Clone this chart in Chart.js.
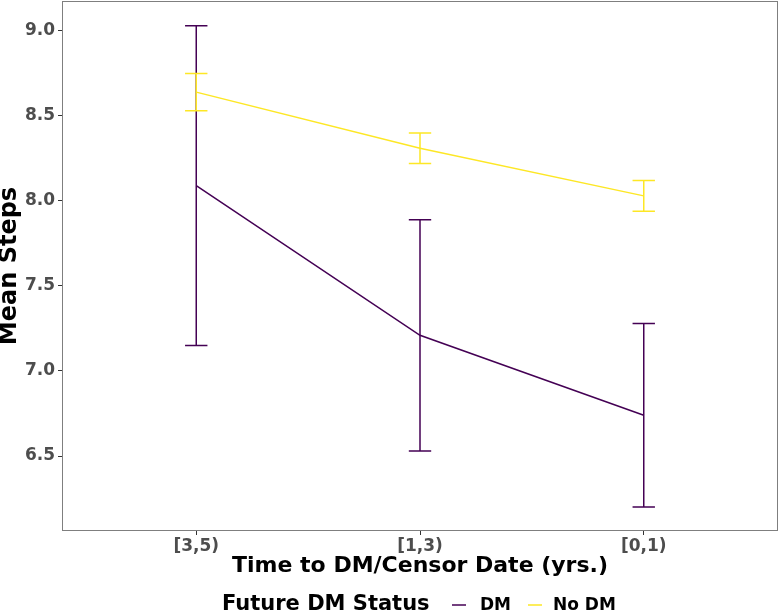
<!DOCTYPE html>
<html>
<head>
<meta charset="utf-8">
<script src="https://cdn.jsdelivr.net/npm/chart.js@4"></script>
<style>
  body { margin: 0; background: #fff; }
  #wrap { width: 780px; height: 614px; }
</style>
</head>
<body>
<div id="wrap"><canvas id="steps-chart"></canvas></div>
<script>
// categories on the x axis
var categories = ['[3,5)', '[1,3)', '[0,1)'];
var yTicks = [6.5, 7.0, 7.5, 8.0, 8.5, 9.0];

// Future DM status groups
var groups = ['DM', 'No DM'];
var groupColors = ['#440154', '#FDE725'];

var dmMean = [8.09, 7.21, 6.74];
var dmLower = [7.15, 6.53, 6.20];
var dmUpper = [9.03, 7.89, 7.28];

var noDmMean = [8.64, 8.31, 8.03];
var noDmLower = [8.53, 8.22, 7.94];
var noDmUpper = [8.75, 8.40, 8.12];

const FONT = "'DejaVu Sans', sans-serif";

function toPoints(vals) {
    return vals.map(function (v, i) { return {x: i + 1, y: v}; });
}

const errorBars = {
    id: 'errorBars',
    afterDatasetsDraw(chart) {
        const ctx = chart.ctx;
        const xs = chart.scales.x, ys = chart.scales.y;
        const half = xs.getPixelForValue(1.05) - xs.getPixelForValue(1);
        const sets = [[dmLower, dmUpper], [noDmLower, noDmUpper]];
        ctx.save();
        ctx.lineWidth = 1.5;
        sets.forEach(function (s, g) {
            ctx.strokeStyle = groupColors[g];
            for (let i = 0; i < categories.length; i++) {
                const px = xs.getPixelForValue(i + 1);
                const lo = ys.getPixelForValue(s[0][i]);
                const hi = ys.getPixelForValue(s[1][i]);
                ctx.beginPath();
                ctx.moveTo(px, lo); ctx.lineTo(px, hi);
                ctx.moveTo(px - half, lo); ctx.lineTo(px + half, lo);
                ctx.moveTo(px - half, hi); ctx.lineTo(px + half, hi);
                ctx.stroke();
            }
        });
        ctx.restore();
    },
    afterDraw(chart) {
        const ctx = chart.ctx;
        const a = chart.chartArea;
        ctx.save();
        // panel border
        ctx.strokeStyle = '#7f7f7f';
        ctx.lineWidth = 1;
        ctx.strokeRect(a.left + 0.5, a.top + 0.5, a.right - a.left - 1, a.bottom - a.top - 1);

        // legend
        const y = 605;
        ctx.textBaseline = 'middle';
        ctx.fillStyle = '#000';
        ctx.font = 'bold 21px ' + FONT;
        ctx.fillText('Future DM Status', 222, y);
        ctx.font = 'bold 17px ' + FONT;
        const keys = [[452, 480], [528, 553]];
        groups.forEach(function (name, g) {
            ctx.strokeStyle = groupColors[g];
            ctx.lineWidth = 1.5;
            ctx.beginPath();
            ctx.moveTo(keys[g][0], y); ctx.lineTo(keys[g][0] + 14, y);
            ctx.stroke();
            ctx.fillStyle = '#000';
            ctx.fillText(name, keys[g][1], y + 1);
        });
        ctx.restore();
    }
};

new Chart(document.getElementById('steps-chart'), {
    type: 'line',
    data: {
        datasets: [
            {
                label: groups[0],
                data: toPoints(dmMean),
                borderColor: groupColors[0],
                borderWidth: 1.5,
                pointRadius: 0,
                tension: 0
            },
            {
                label: groups[1],
                data: toPoints(noDmMean),
                borderColor: groupColors[1],
                borderWidth: 1.5,
                pointRadius: 0,
                tension: 0
            }
        ]
    },
    options: {
        responsive: true,
        maintainAspectRatio: false,
        animation: false,
        layout: {
            padding: {top: 1, right: 2, left: 0, bottom: 35}
        },
        scales: {
            x: {
                type: 'linear',
                min: 0.4,
                max: 3.6,
                afterBuildTicks: function (axis) {
                    axis.ticks = categories.map(function (c, i) { return {value: i + 1}; });
                },
                afterFit: function (axis) {
                    axis.height = 48;
                    axis.paddingLeft = 0;
                    axis.paddingRight = 0;
                },
                ticks: {
                    color: '#4d4d4d',
                    font: {family: FONT, size: 17, weight: 'bold'},
                    padding: 1,
                    maxRotation: 0,
                    callback: function (v) { return categories[v - 1]; }
                },
                grid: {
                    drawOnChartArea: false,
                    drawTicks: true,
                    tickLength: 4,
                    color: '#333'
                },
                border: {display: false},
                title: {
                    display: true,
                    text: 'Time to DM/Censor Date (yrs.)',
                    color: '#000',
                    font: {family: FONT, size: 22, weight: 'bold'},
                    padding: {top: 0, bottom: 0}
                }
            },
            y: {
                min: 6.059,
                max: 9.176,
                afterBuildTicks: function (axis) {
                    axis.ticks = yTicks.map(function (v) { return {value: v}; });
                },
                afterFit: function (axis) {
                    axis.width = 62;
                    axis.paddingTop = 0;
                    axis.paddingBottom = 0;
                },
                ticks: {
                    color: '#4d4d4d',
                    font: {family: FONT, size: 17, weight: 'bold'},
                    padding: 3,
                    callback: function (v) { return v.toFixed(1); }
                },
                grid: {
                    drawOnChartArea: false,
                    drawTicks: true,
                    tickLength: 4,
                    color: '#333'
                },
                border: {display: false},
                title: {
                    display: true,
                    text: 'Mean Steps',
                    color: '#000',
                    font: {family: FONT, size: 24, weight: 'bold', lineHeight: 0.8},
                    padding: {top: 0, bottom: 0}
                }
            }
        },
        plugins: {
            legend: {display: false},
            tooltip: {enabled: false}
        }
    },
    plugins: [errorBars]
});
</script>
</body>
</html>
